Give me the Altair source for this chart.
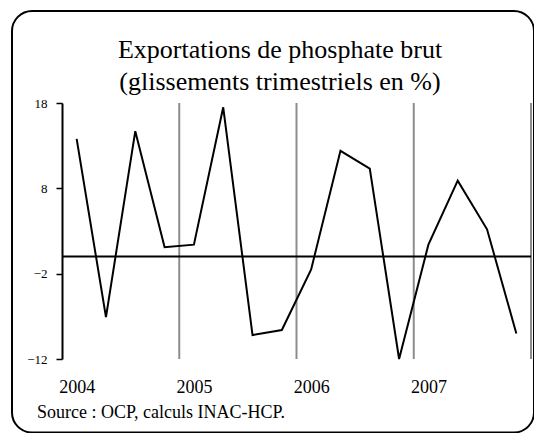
import altair as alt
import pandas as pd

years = [2004, 2005, 2006, 2007]
quarters = [1, 2, 3, 4]
values = [13.8, -7.1, 14.7, 1.1,
          1.4, 17.5, -9.2, -8.6,
          -1.5, 12.4, 10.3, -12.0,
          1.4, 8.9, 3.2, -9.0]
year_bounds = [2005, 2006, 2007, 2008]
y_ticks = [-12, -2, 8, 18]
title_lines = ["Exportations de phosphate brut", "(glissements trimestriels en %)"]
source_text = "Source : OCP, calculs INAC-HCP."

rows = []
i = 0
for yr in years:
    for q in quarters:
        rows.append({"t": yr + (q - 0.5) / 4, "v": values[i]})
        i += 1
df = pd.DataFrame(rows)

FONT = "Liberation Serif"
xscale = alt.Scale(domain=[2004, 2008], nice=False, zero=False)
yscale = alt.Scale(domain=[-12, 18], nice=False, zero=False)

label_pos = [yr + 0.125 for yr in years]

grid = alt.Chart(pd.DataFrame({"b": year_bounds})).mark_rule(
    color="#8c8c8c", strokeWidth=2
).encode(
    x=alt.X("b:Q", scale=xscale,
            axis=alt.Axis(values=label_pos, labelExpr="floor(datum.value)", domain=False,
                          ticks=False, tickSize=0, grid=False, labelFont=FONT, labelFontSize=18,
                          labelColor="black", labelBaseline="alphabetic", labelPadding=33,
                          title=None)),
    y=alt.value(0),
    y2=alt.value(256),
)

zero = alt.Chart(pd.DataFrame({"z": [0]})).mark_rule(color="black", strokeWidth=2).encode(
    y=alt.Y("z:Q", scale=yscale,
            axis=alt.Axis(values=y_ticks, grid=False, domainColor="black", domainWidth=2,
                          tickColor="black", tickWidth=1.5, tickSize=6, labelFont=FONT,
                          labelFontSize=13, labelColor="black", labelPadding=9, title=None)),
    x=alt.value(0),
    x2=alt.value(469),
)

line = alt.Chart(df).mark_line(color="black", strokeWidth=2).encode(
    x=alt.X("t:Q", scale=xscale),
    y=alt.Y("v:Q", scale=yscale),
)

one = alt.Data(values=[{"a": 1}])
border = alt.Chart(one).mark_rect(
    fill=None, fillOpacity=0, stroke="black", strokeWidth=2, cornerRadius=20
).encode(
    x=alt.value(-50), x2=alt.value(472), y=alt.value(-92), y2=alt.value(329.5)
)

t1 = alt.Chart(one).mark_text(
    text=title_lines[0], font=FONT, fontSize=26, align="center", baseline="alphabetic", color="black"
).encode(x=alt.value(218), y=alt.value(-45))
t2 = alt.Chart(one).mark_text(
    text=title_lines[1], font=FONT, fontSize=26, align="center", baseline="alphabetic", color="black"
).encode(x=alt.value(218), y=alt.value(-13))
src = alt.Chart(one).mark_text(
    text=source_text, font=FONT, fontSize=18, align="left", baseline="alphabetic", color="black"
).encode(x=alt.value(-25), y=alt.value(315))

chart = alt.layer(grid, zero, line, border, t1, t2, src).resolve_scale(
    x="shared", y="shared"
).properties(
    width=469, height=256,
    autosize=alt.AutoSizeParams(type="none"),
    padding={"left": 54, "top": 95, "right": 3, "bottom": 74},
    background="white",
).configure_view(stroke=None)

chart.save("out.html", embed_options={"renderer": "svg", "actions": False})
